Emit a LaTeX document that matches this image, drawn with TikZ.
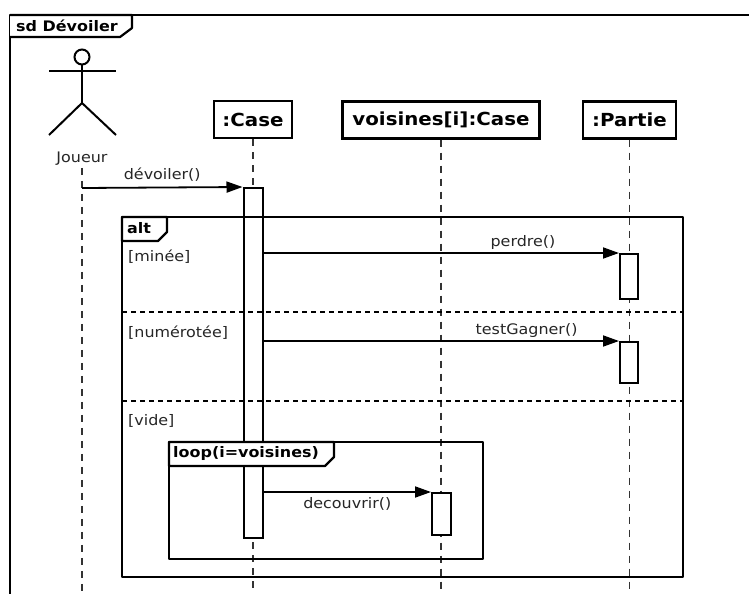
\documentclass[tikz,border=0pt]{standalone}
\usepackage{fontspec}
\setmainfont{DejaVu Sans}
\newfontfamily\boldfont[FakeStretch=1.1]{DejaVu Sans Bold}
\newfontfamily\regfont[FakeStretch=1.1]{DejaVu Sans}
\usetikzlibrary{arrows.meta}
\begin{document}
\begin{tikzpicture}[x=1pt,y=-1pt,
  hdr/.style={draw, line width=2.2pt, minimum height=37pt, inner sep=0pt, fill=white, font=\boldfont\fontsize{18}{21}\selectfont},
  act/.style={draw, line width=2pt, fill=white, minimum width=19pt, inner sep=0pt},
  life/.style={line width=1.5pt, dash pattern=on 7pt off 6pt, black!80},
  frm/.style={line width=2.2pt, line join=round},
  sep/.style={line width=2.2pt, dash pattern=on 5pt off 4pt},
  msg/.style={line width=1.8pt, -{Triangle[length=16pt,width=11pt]}},
  lbl/.style={font=\regfont\fontsize{14.5}{17}\selectfont, text=black!85, inner sep=2pt},
  flbl/.style={font=\boldfont\fontsize{14.5}{17}\selectfont, inner sep=0pt, anchor=west},
  stick/.style={line width=2pt},
]
\useasboundingbox (0,0) rectangle (749,594);
\fill[white] (0,0) rectangle (749,594);

% actor
\node[draw, circle, line width=2pt, minimum size=15pt, inner sep=0pt] (head) at (82,57) {};
\coordinate (hip) at (82,103);
\coordinate (armL) at (49,71);
\coordinate (armR) at (116,71);
\coordinate (legL) at (49,135);
\coordinate (legR) at (116,135);
\draw[stick] (head.south) -- (hip);
\draw[stick] (armL) -- (armR);
\draw[stick] (legL) -- (hip) -- (legR);
\node[lbl] (joueur) at (82,159) {Joueur};
\coordinate (jend) at (82,594);

% lifeline headers
\node[hdr, minimum width=78pt] (case) at (253,119.5) {:Case};
\node[hdr, minimum width=197pt] (vois) at (441,120) {voisines[i]:Case};
\node[hdr, minimum width=93pt] (partie) at (629.5,120) {:Partie};

% lifelines
\draw[life] (joueur.south) -- (jend);
\draw[life] (case.south) -- (case.south |- jend);
\draw[life] (vois.south) -- (vois.south |- jend);
\draw[life] (partie.south) -- (partie.south |- jend);

% activations
\node[act, minimum height=350pt] (a1) at (253,363) {};
\node[act, minimum width=18pt, minimum height=45pt] (p1) at (629,276.5) {};
\node[act, minimum width=18pt, minimum height=41pt] (p2) at (629,362.5) {};
\node[act, minimum height=42pt] (v1) at (441.5,514) {};

% outer frame
\draw[frm] (749,15) -- (10,15) -- (10,594);
\draw[frm, fill=white] (10,15) -- (132,15) -- (132,28) -- (120,37) -- (10,37);
\node[flbl] (sdl) at (16,25.5) {sd Dévoiler};

% alt frame
\draw[frm] (122,217) rectangle (683,577);
\draw[frm, fill=white] (122,217) -- (167,217) -- (167,232) -- (158,241) -- (122,241) -- cycle;
\node[flbl] (altl) at (127,228) {alt};
\draw[sep] (122,312) -- (683,312);
\draw[sep] (122,401) -- (683,401);
\node[lbl, anchor=west] (g1) at (126,257) {[minée]};
\node[lbl, anchor=west] (g2) at (126,333) {[numérotée]};
\node[lbl, anchor=west] (g3) at (126,421) {[vide]};

% loop frame
\draw[frm] (169,442) rectangle (483,559);
\draw[frm, fill=white] (169,442) -- (334,442) -- (334,457) -- (325,466) -- (169,466) -- cycle;
\node[flbl] (loopl) at (173,453) {loop(i=voisines)};

% messages
\coordinate (jm) at (82,188);
\draw[msg] (jm) -- (a1.north west) node[lbl, above=3pt, midway] {dévoiler()};
\draw[msg] (a1.east |- p1.north west) -- (p1.north west) node[lbl, above=1pt, pos=0.73] {perdre()};
\draw[msg] (a1.east |- p2.north west) -- (p2.north west) node[lbl, above=1pt, pos=0.74] {testGagner()};
\draw[msg] (a1.east |- v1.north west) -- (v1.north west) node[lbl, below=3pt, midway] {decouvrir()};
\end{tikzpicture}
\end{document}
